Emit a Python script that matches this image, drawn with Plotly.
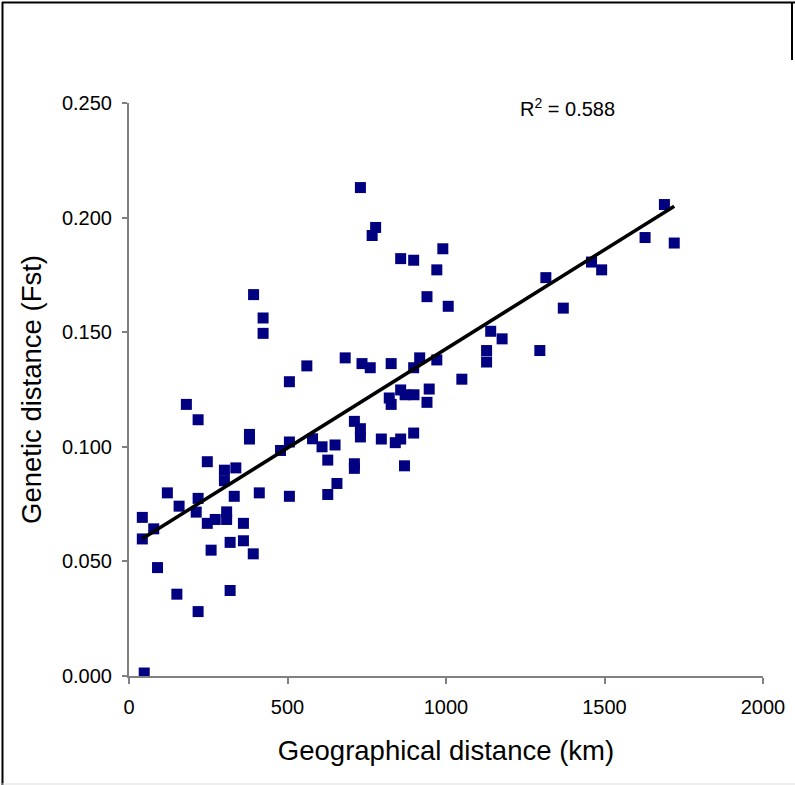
import numpy as np
import plotly.graph_objects as go

# Geographical distance (km) and genetic distance (Fst)
geo_km = [181, 218, 506, 380, 380, 478, 506, 579, 609, 650,
          247, 301, 337, 301, 332, 411, 506, 627, 656, 627,
          121, 158, 218, 212, 42, 78, 42, 247, 272, 308,
          308, 361, 319, 259, 361, 392, 90, 151, 319, 218,
          48,
          730, 778, 767, 857, 898, 990, 971, 940, 1007, 1315,
          1370, 1141, 1177, 1128, 1128, 1296, 682, 735, 761, 827,
          917, 971, 898, 1050, 857, 947, 821, 827, 871, 899,
          940, 711, 730, 730, 796, 840, 857, 898, 711, 711,
          869,
          1689, 1720, 1628, 1459, 1491,
          393, 423, 423, 561]
fst = [0.1185, 0.1118, 0.1284, 0.1054, 0.1034, 0.0984, 0.1021, 0.1035, 0.1000, 0.1008,
       0.0935, 0.0898, 0.0908, 0.0852, 0.0784, 0.0799, 0.0784, 0.0942, 0.0840, 0.0792,
       0.0799, 0.0741, 0.0775, 0.0715, 0.0692, 0.0642, 0.0598, 0.0666, 0.0683, 0.0716,
       0.0683, 0.0666, 0.0583, 0.0549, 0.0590, 0.0533, 0.0473, 0.0357, 0.0373, 0.0281,
       0.0013,
       0.2131, 0.1957, 0.1922, 0.1821, 0.1814, 0.1864, 0.1772, 0.1655, 0.1613, 0.1738,
       0.1605, 0.1504, 0.1471, 0.1420, 0.1370, 0.1420, 0.1388, 0.1363, 0.1345, 0.1363,
       0.1388, 0.1379, 0.1345, 0.1295, 0.1248, 0.1252, 0.1213, 0.1185, 0.1227, 0.1227,
       0.1194, 0.1111, 0.1079, 0.1043, 0.1034, 0.1018, 0.1034, 0.1060, 0.0926, 0.0906,
       0.0917,
       0.2057, 0.1889, 0.1913, 0.1806, 0.1772,
       0.1664, 0.1562, 0.1495, 0.1353]

x_ticks = [0, 500, 1000, 1500, 2000]
y_ticks = [0.000, 0.050, 0.100, 0.150, 0.200, 0.250]
y_tick_labels = ["0.000", "0.050", "0.100", "0.150", "0.200", "0.250"]
r2_label = "R<sup>2</sup> = 0.588"

FONT = "Liberation Sans, Arial, sans-serif"

xs = np.array(geo_km, dtype=float)
ys = np.array(fst, dtype=float)
slope, intercept = np.polyfit(xs, ys, 1)
trend_x = [xs.min(), xs.max()]
trend_y = [slope * v + intercept for v in trend_x]

fig = go.Figure()
fig.add_trace(go.Scatter(
    x=geo_km, y=fst, mode="markers",
    marker=dict(symbol="square", size=11, color="#000080",
                line=dict(width=0)),
    showlegend=False, hoverinfo="skip"))
fig.add_trace(go.Scatter(
    x=trend_x, y=trend_y, mode="lines",
    line=dict(color="black", width=3.5),
    showlegend=False, hoverinfo="skip"))

fig.add_annotation(x=1228, y=0.2482, xref="x", yref="y", text=r2_label,
                   showarrow=False, xanchor="left", yanchor="middle",
                   font=dict(family=FONT, size=20, color="black"))

# outer frame (decoration)
L, R, T, B = 129, 32, 103, 109
PW, PH = 795 - L - R, 785 - T - B
def px(v):
    return (v - L) / PW
def py(v):
    return (785 - B - v) / PH
frame = dict(color="black", width=2)
fig.add_shape(type="line", xref="paper", yref="paper", x0=px(2), x1=px(795), y0=py(2.5), y1=py(2.5), line=frame)
fig.add_shape(type="line", xref="paper", yref="paper", x0=px(2.5), x1=px(2.5), y0=py(2), y1=py(785), line=frame)
fig.add_shape(type="line", xref="paper", yref="paper", x0=px(792), x1=px(792), y0=py(2), y1=py(60), line=frame)
fig.add_shape(type="line", xref="paper", yref="paper", x0=px(2), x1=px(795), y0=py(784), y1=py(784),
              line=dict(color="#dddddd", width=1))

fig.update_layout(
    width=795, height=785,
    margin=dict(l=L, r=R, t=T, b=B, autoexpand=False),
    paper_bgcolor="white", plot_bgcolor="white",
    font=dict(family=FONT, color="black"),
    xaxis=dict(range=[0, 2000], tickvals=x_ticks, ticktext=[str(v) for v in x_ticks],
               automargin=False,
               showgrid=False, zeroline=False, showline=True, linecolor="#808080", linewidth=2,
               ticks="outside", ticklen=6, tickwidth=1.5, tickcolor="#808080",
               tickfont=dict(family=FONT, size=20, color="black"),
               ticklabelstandoff=6,
               title=dict(text="Geographical distance (km)", standoff=24,
                          font=dict(family=FONT, size=27.5, color="black"))),
    yaxis=dict(range=[0, 0.25], tickvals=y_ticks, ticktext=y_tick_labels,
               automargin=False,
               showgrid=False, zeroline=False, showline=True, linecolor="#808080", linewidth=2,
               ticks="outside", ticklen=5, tickwidth=1.5, tickcolor="#808080",
               tickfont=dict(family=FONT, size=20, color="black"),
               ticklabelstandoff=6,
               title=dict(text="Genetic distance (Fst)", standoff=12,
                          font=dict(family=FONT, size=27.5, color="black"))),
)

fig.write_html("out.html", config={"displayModeBar": False},
               post_script="document.body.style.margin='0';")
